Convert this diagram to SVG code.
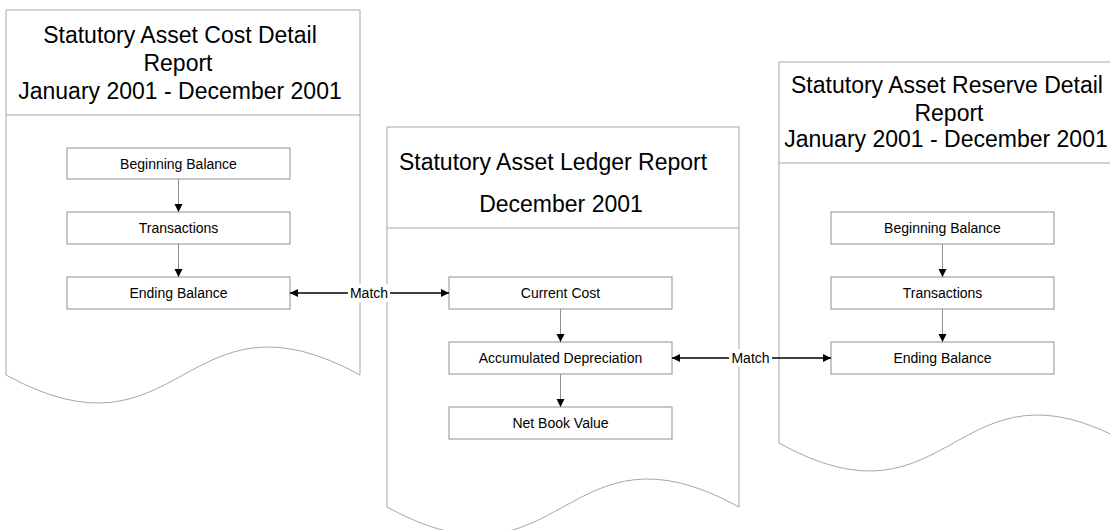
<svg xmlns="http://www.w3.org/2000/svg" width="1110" height="530" viewBox="0 0 1110 530">
<defs>
<style>
.doc{fill:#fff;stroke:#a6a6a6;stroke-width:1}
.hdr{stroke:#a6a6a6;stroke-width:1}
.box{fill:#fff;stroke:#8f8f8f;stroke-width:1}
.title{font-family:"Liberation Sans",Arial,sans-serif;font-size:23px;fill:#000;text-anchor:middle}
.lbl{font-family:"Liberation Sans",Arial,sans-serif;font-size:14px;fill:#000;text-anchor:middle}
.flow{stroke:#8f8f8f;stroke-width:1;fill:none;marker-end:url(#ah)}
.match{stroke:#000;stroke-width:1.4;fill:none;marker-start:url(#mh);marker-end:url(#mh)}
.bg{fill:#fff}
</style>
<marker id="ah" viewBox="0 0 10 10" refX="10" refY="5" markerWidth="8" markerHeight="9" markerUnits="userSpaceOnUse" orient="auto">
<path d="M0,0 L10,5 L0,10 Z" fill="#000"/>
</marker>
<marker id="mh" viewBox="0 0 10 10" refX="10" refY="5" markerWidth="11" markerHeight="8" markerUnits="userSpaceOnUse" orient="auto-start-reverse">
<path d="M0,0 L10,5 L0,10 Z" fill="#000"/>
</marker>
</defs>
<rect width="1110" height="530" fill="#fff"/>

<g id="doc-cost">
<path class="doc" d="M6,10 H360 V375 C183,278 183,472 6,375 Z"/>
<line class="hdr" x1="6" y1="115" x2="360" y2="115"/>
<text class="title" x="180" y="43">Statutory Asset Cost Detail</text>
<text class="title" x="178" y="71">Report</text>
<text class="title" x="180" y="99">January 2001 - December 2001</text>
</g>
<g id="doc-ledger">
<path class="doc" d="M387,127 H739 V507 C563,410 563,604 387,507 Z"/>
<line class="hdr" x1="387" y1="228" x2="739" y2="228"/>
<text class="title" x="553" y="170">Statutory Asset Ledger Report</text>
<text class="title" x="561" y="212">December 2001</text>
</g>
<g id="doc-reserve">
<path class="doc" d="M779,62 H1128 V443 C953.5,346 953.5,540 779,443 Z"/>
<line class="hdr" x1="779" y1="163" x2="1128" y2="163"/>
<text class="title" x="947" y="93">Statutory Asset Reserve Detail</text>
<text class="title" x="949" y="121">Report</text>
<text class="title" x="946" y="147">January 2001 - December 2001</text>
</g>

<g id="cost-begin"><rect class="box" x="67" y="148" width="223" height="31"/><text class="lbl" x="178.5" y="168.5">Beginning Balance</text></g>
<g id="cost-trans"><rect class="box" x="67" y="212" width="223" height="32"/><text class="lbl" x="178.5" y="233">Transactions</text></g>
<g id="cost-end"><rect class="box" x="67" y="277" width="223" height="32"/><text class="lbl" x="178.5" y="298">Ending Balance</text></g>

<g id="ledger-cost"><rect class="box" x="449" y="277" width="223" height="32"/><text class="lbl" x="560.5" y="298">Current Cost</text></g>
<g id="ledger-dep"><rect class="box" x="449" y="342" width="223" height="32"/><text class="lbl" x="560.5" y="363">Accumulated Depreciation</text></g>
<g id="ledger-nbv"><rect class="box" x="449" y="407" width="223" height="32"/><text class="lbl" x="560.5" y="428">Net Book Value</text></g>

<g id="res-begin"><rect class="box" x="831" y="212" width="223" height="32"/><text class="lbl" x="942.5" y="233">Beginning Balance</text></g>
<g id="res-trans"><rect class="box" x="831" y="277" width="223" height="32"/><text class="lbl" x="942.5" y="298">Transactions</text></g>
<g id="res-end"><rect class="box" x="831" y="342" width="223" height="32"/><text class="lbl" x="942.5" y="363">Ending Balance</text></g>

<g id="connectors">
<line class="flow" x1="178.5" y1="179" x2="178.5" y2="212"/>
<line class="flow" x1="178.5" y1="244" x2="178.5" y2="277"/>
<line class="flow" x1="560.5" y1="309" x2="560.5" y2="342"/>
<line class="flow" x1="560.5" y1="374" x2="560.5" y2="407"/>
<line class="flow" x1="942.5" y1="244" x2="942.5" y2="277"/>
<line class="flow" x1="942.5" y1="309" x2="942.5" y2="342"/>
<line class="match" x1="290" y1="293" x2="449" y2="293"/>
<line class="match" x1="672" y1="358" x2="831" y2="358"/>
<rect class="bg" x="348" y="284" width="42" height="18"/>
<text class="lbl" x="369" y="298">Match</text>
<rect class="bg" x="729" y="349" width="43" height="18"/>
<text class="lbl" x="750.5" y="363">Match</text>
</g>
</svg>
